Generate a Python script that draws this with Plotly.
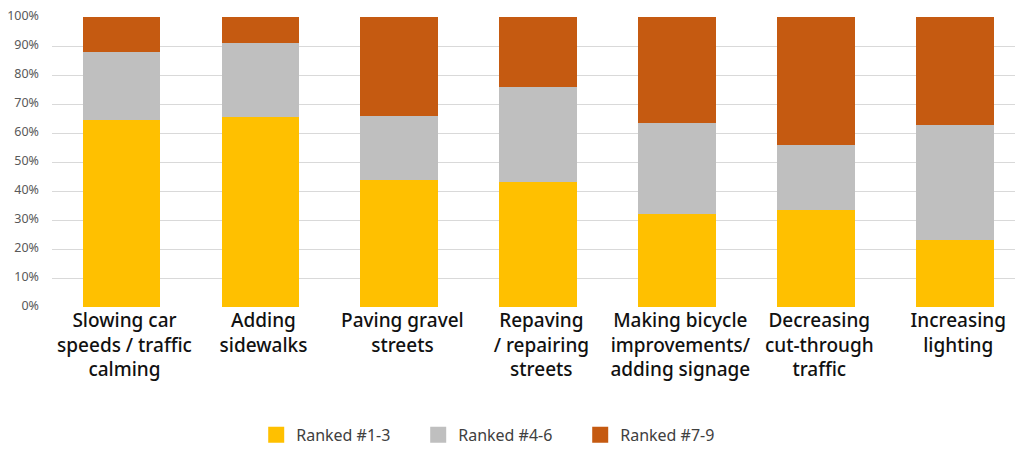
import plotly.graph_objects as go

categories = [
    "Slowing car<br>speeds / traffic<br>calming",
    "Adding<br>sidewalks",
    "Paving gravel<br>streets",
    "Repaving<br>/ repairing<br>streets",
    "Making bicycle<br>improvements/<br>adding signage",
    "Decreasing<br>cut-through<br>traffic",
    "Increasing<br>lighting",
]
ranked_1_3 = [64.6, 65.5, 43.7, 43.1, 32.2, 33.3, 23.0]
ranked_4_6 = [23.5, 25.6, 22.1, 32.7, 31.2, 22.4, 39.6]
ranked_7_9 = [11.9, 8.9, 34.2, 24.2, 36.6, 44.3, 37.4]
series_names = ["Ranked #1-3", "Ranked #4-6", "Ranked #7-9"]
colors = ["#FFC000", "#BFBFBF", "#C55A11"]

fig = go.Figure()
for name, vals, col in zip(series_names, [ranked_1_3, ranked_4_6, ranked_7_9], colors):
    fig.add_trace(go.Bar(
        x=list(range(len(categories))), y=[v / 100 for v in vals], name=name,
        marker=dict(color=col, line=dict(width=0)), showlegend=False,
    ))
    fig.add_trace(go.Scatter(
        x=[None], y=[None], mode="markers", name=name,
        marker=dict(symbol="square", size=16, color=col),
    ))

fig.update_layout(
    barmode="stack",
    bargap=0.44,
    width=1017, height=442,
    margin=dict(l=44, r=10, t=9, b=143, autoexpand=False),
    paper_bgcolor="white", plot_bgcolor="white",
    font=dict(family="Noto Sans", color="#595959"),
    legend=dict(
        orientation="h", xref="container", x=0.483, xanchor="center",
        yref="container", y=0.034, yanchor="middle", traceorder="normal",
        font=dict(size=16, color="#404040"), itemwidth=30, entrywidth=117,
    ),
    xaxis=dict(
        tickmode="array", tickvals=list(range(len(categories))), ticktext=categories,
        range=[-0.5, 6.43], showgrid=False, zeroline=False, showline=False,
        tickfont=dict(size=19, color="#111111", weight=500), ticks="", automargin=False,
        ticklabelstandoff=0, ticklabelshift=3,
    ),
    yaxis=dict(
        range=[0, 1], tickvals=[i / 10 for i in range(11)], tickformat=".0%",
        showgrid=True, gridcolor="#D9D9D9", gridwidth=1, zeroline=False,
        showline=False, tickfont=dict(size=12.5, color="#595959"),
        ticklabelstandoff=12, automargin=False, ticklabeloverflow="allow",
        ticklabelshift=-1,
    ),
)

fig.write_html("out.html")
